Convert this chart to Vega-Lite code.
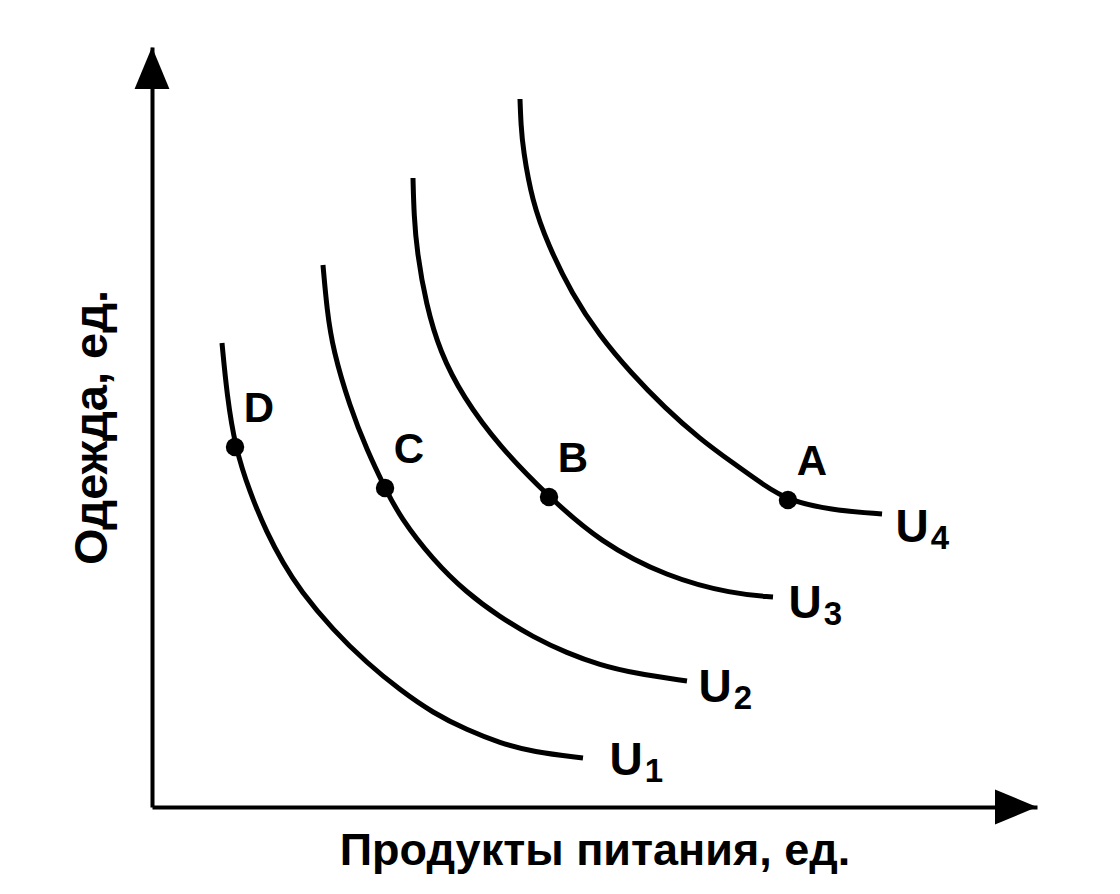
{
  "$schema": "https://vega.github.io/schema/vega-lite/v6.json",
  "width": 885,
  "height": 760,
  "autosize": {"type": "none"},
  "padding": {"left": 152, "top": 47, "right": 83, "bottom": 87},
  "background": "white",
  "config": {"view": {"stroke": null}, "font": "Liberation Sans"},
  "datasets": {
    "curves": [
      {"curve": "U1", "x": 7.91, "y": 61.05},
      {"curve": "U1", "x": 8.47, "y": 54.21},
      {"curve": "U1", "x": 9.38, "y": 47.37},
      {"curve": "U1", "x": 11.07, "y": 41.32},
      {"curve": "U1", "x": 12.99, "y": 36.05},
      {"curve": "U1", "x": 14.80, "y": 32.11},
      {"curve": "U1", "x": 16.72, "y": 28.55},
      {"curve": "U1", "x": 20.45, "y": 23.29},
      {"curve": "U1", "x": 24.29, "y": 18.95},
      {"curve": "U1", "x": 28.02, "y": 15.39},
      {"curve": "U1", "x": 31.75, "y": 12.37},
      {"curve": "U1", "x": 35.59, "y": 10.13},
      {"curve": "U1", "x": 39.32, "y": 8.42},
      {"curve": "U1", "x": 43.05, "y": 7.24},
      {"curve": "U1", "x": 48.70, "y": 6.45},
      {"curve": "U2", "x": 19.32, "y": 71.32},
      {"curve": "U2", "x": 19.77, "y": 65.39},
      {"curve": "U2", "x": 20.45, "y": 60.13},
      {"curve": "U2", "x": 22.37, "y": 52.63},
      {"curve": "U2", "x": 24.29, "y": 46.97},
      {"curve": "U2", "x": 26.33, "y": 41.97},
      {"curve": "U2", "x": 28.02, "y": 38.16},
      {"curve": "U2", "x": 31.75, "y": 32.50},
      {"curve": "U2", "x": 35.59, "y": 28.16},
      {"curve": "U2", "x": 39.32, "y": 25.00},
      {"curve": "U2", "x": 43.05, "y": 22.37},
      {"curve": "U2", "x": 46.89, "y": 20.26},
      {"curve": "U2", "x": 50.62, "y": 18.68},
      {"curve": "U2", "x": 54.35, "y": 17.63},
      {"curve": "U2", "x": 60.45, "y": 16.58},
      {"curve": "U3", "x": 29.49, "y": 82.76},
      {"curve": "U3", "x": 29.60, "y": 77.89},
      {"curve": "U3", "x": 29.94, "y": 73.03},
      {"curve": "U3", "x": 30.96, "y": 66.18},
      {"curve": "U3", "x": 32.54, "y": 59.87},
      {"curve": "U3", "x": 35.14, "y": 53.95},
      {"curve": "U3", "x": 39.21, "y": 47.50},
      {"curve": "U3", "x": 44.86, "y": 40.79},
      {"curve": "U3", "x": 50.62, "y": 34.87},
      {"curve": "U3", "x": 58.19, "y": 30.26},
      {"curve": "U3", "x": 65.65, "y": 28.03},
      {"curve": "U3", "x": 70.17, "y": 27.63},
      {"curve": "U4", "x": 41.58, "y": 93.16},
      {"curve": "U4", "x": 41.69, "y": 89.74},
      {"curve": "U4", "x": 41.92, "y": 86.58},
      {"curve": "U4", "x": 42.94, "y": 79.74},
      {"curve": "U4", "x": 44.75, "y": 73.95},
      {"curve": "U4", "x": 47.46, "y": 67.50},
      {"curve": "U4", "x": 50.51, "y": 62.11},
      {"curve": "U4", "x": 54.12, "y": 57.11},
      {"curve": "U4", "x": 57.97, "y": 52.50},
      {"curve": "U4", "x": 61.92, "y": 48.42},
      {"curve": "U4", "x": 65.65, "y": 45.26},
      {"curve": "U4", "x": 69.27, "y": 42.24},
      {"curve": "U4", "x": 71.86, "y": 40.39},
      {"curve": "U4", "x": 76.61, "y": 39.08},
      {"curve": "U4", "x": 82.49, "y": 38.55}
    ],
    "points": [
      {"label": "D", "x": 9.38, "y": 47.37},
      {"label": "C", "x": 26.33, "y": 41.97},
      {"label": "B", "x": 44.86, "y": 40.79},
      {"label": "A", "x": 71.86, "y": 40.39}
    ],
    "ulabels": [
      {"u": "U", "sub": "1", "x": 53.56, "y": 6.05},
      {"u": "U", "sub": "2", "x": 63.62, "y": 15.66},
      {"u": "U", "sub": "3", "x": 73.79, "y": 26.71},
      {"u": "U", "sub": "4", "x": 85.88, "y": 36.71}
    ],
    "arrows": [
      {"dir": "up", "x": 0, "y": 100},
      {"dir": "right", "x": 100, "y": 0}
    ]
  },
  "layer": [
    {
      "data": {"name": "curves"},
      "mark": {"type": "line", "interpolate": "basis", "color": "black", "strokeWidth": 5, "strokeCap": "butt"},
      "encoding": {
        "x": {"field": "x", "type": "quantitative", "scale": {"domain": [0, 100], "nice": false},
              "axis": {"title": "Продукты питания, ед.", "labels": false, "ticks": false, "grid": false,
                       "domainColor": "black", "domainWidth": 4, "titleFont": "Liberation Sans", "titleFontSize": 45,
                       "titleFontWeight": "bold", "titleColor": "black", "titlePadding": 21}},
        "y": {"field": "y", "type": "quantitative", "scale": {"domain": [0, 100], "nice": false},
              "axis": {"title": "Одежда, ед.", "labels": false, "ticks": false, "grid": false,
                       "domainColor": "black", "domainWidth": 4, "titleFont": "Liberation Sans", "titleFontSize": 47,
                       "titleFontWeight": "bold", "titleColor": "black", "titlePadding": 36}},
        "detail": {"field": "curve", "type": "nominal"}
      }
    },
    {
      "data": {"name": "points"},
      "mark": {"type": "point", "filled": true, "color": "black", "opacity": 1, "size": 340},
      "encoding": {
        "x": {"field": "x", "type": "quantitative"},
        "y": {"field": "y", "type": "quantitative"}
      }
    },
    {
      "data": {"name": "points"},
      "mark": {"type": "text", "font": "Liberation Sans", "fontSize": 42, "fontWeight": "bold", "color": "black", "align": "center", "baseline": "middle", "dx": 24, "dy": -38},
      "encoding": {
        "x": {"field": "x", "type": "quantitative"},
        "y": {"field": "y", "type": "quantitative"},
        "text": {"field": "label"}
      }
    },
    {
      "data": {"name": "ulabels"},
      "mark": {"type": "text", "font": "Liberation Sans", "fontSize": 46, "fontWeight": "bold", "color": "black", "align": "center", "baseline": "middle"},
      "encoding": {
        "x": {"field": "x", "type": "quantitative"},
        "y": {"field": "y", "type": "quantitative"},
        "text": {"field": "u"}
      }
    },
    {
      "data": {"name": "ulabels"},
      "mark": {"type": "text", "font": "Liberation Sans", "fontSize": 33, "fontWeight": "bold", "color": "black", "align": "center", "baseline": "middle", "dx": 28, "dy": 11},
      "encoding": {
        "x": {"field": "x", "type": "quantitative"},
        "y": {"field": "y", "type": "quantitative"},
        "text": {"field": "sub"}
      }
    },
    {
      "data": {"name": "arrows"},
      "mark": {"type": "point", "filled": true, "color": "black", "opacity": 1, "size": 1764},
      "encoding": {
        "x": {"field": "x", "type": "quantitative"},
        "y": {"field": "y", "type": "quantitative"},
        "shape": {"field": "dir", "type": "nominal",
                  "scale": {"domain": ["up", "right"], "range": ["M0,0L0.83,2L-0.83,2Z", "M0,0L-2,-0.83L-2,0.83Z"]},
                  "legend": null}
      }
    }
  ]
}
